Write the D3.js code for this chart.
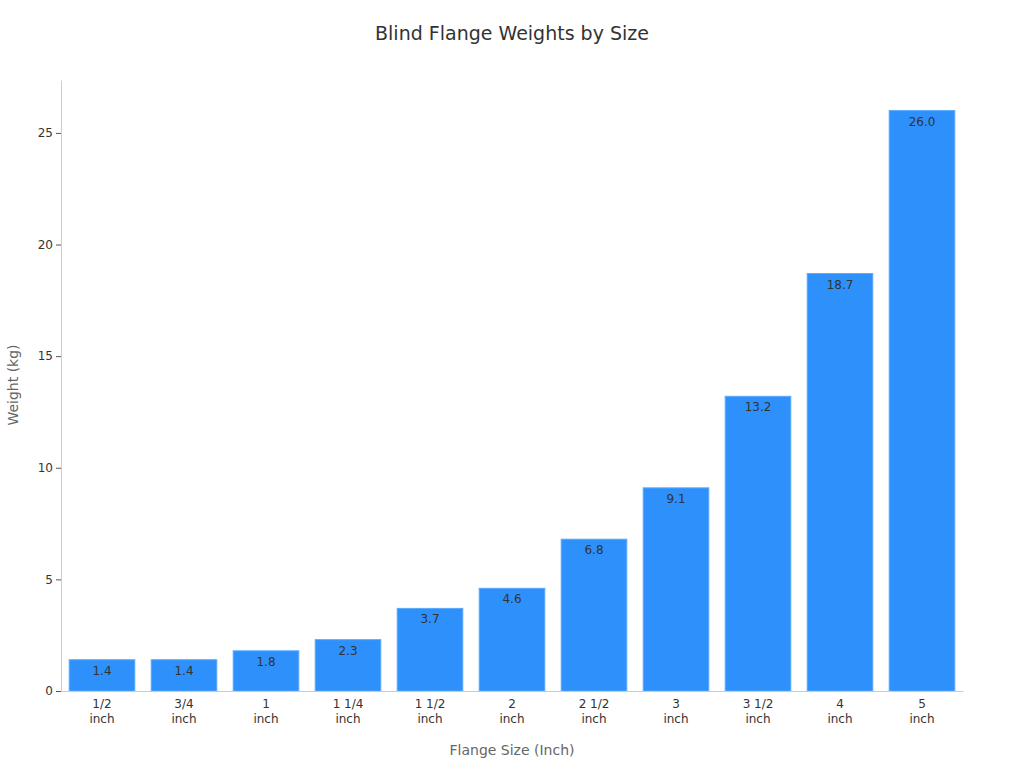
<!DOCTYPE html>
<html><head><meta charset="utf-8">
<script src="https://cdn.jsdelivr.net/npm/d3@7"></script>
<style>body{margin:0;background:#fff;font-family:"DejaVu Sans",sans-serif;}</style>
</head><body>
<svg id="c" width="1024" height="768"></svg>
<script>
const categories = ["1/2 inch","3/4 inch","1 inch","1 1/4 inch","1 1/2 inch","2 inch","2 1/2 inch","3 inch","3 1/2 inch","4 inch","5 inch"];
const weights = [1.4,1.4,1.8,2.3,3.7,4.6,6.8,9.1,13.2,18.7,26.0];
const yTicks = [0,5,10,15,20,25];

const svg = d3.select("#c");
const m = {l:61, r:963, t:80, b:691};
const x = d3.scaleBand().domain(categories).range([m.l,m.r]).paddingInner(0.2).paddingOuter(0.1);
const y = d3.scaleLinear().domain([0,27.37]).range([m.b,m.t]);

svg.append("text").attr("x",512).attr("y",40).attr("text-anchor","middle")
  .attr("font-size",19).attr("fill","#333").text("Blind Flange Weights by Size");

svg.selectAll("rect.bar").data(weights).join("rect").attr("class","bar")
  .attr("x",(d,i)=>x(categories[i])).attr("width",x.bandwidth())
  .attr("y",d=>y(d)).attr("height",d=>y(0)-y(d))
  .attr("fill","#2e90fa").attr("stroke","#5aa8fb").attr("stroke-width",1);

svg.selectAll("text.val").data(weights).join("text").attr("class","val")
  .attr("x",(d,i)=>x(categories[i])+x.bandwidth()/2).attr("y",d=>y(d)+15)
  .attr("text-anchor","middle").attr("font-size",12).attr("fill","#333")
  .text(d=>d.toFixed(1));

const ya = svg.append("g").attr("transform",`translate(${m.l},0)`)
  .call(d3.axisLeft(y).tickValues(yTicks).tickSize(5).tickSizeOuter(0));
ya.select(".domain").attr("stroke","#ccc");
ya.selectAll(".tick line").attr("stroke","#555");
ya.selectAll("text").attr("font-size",12).attr("fill","#333").attr("font-family","DejaVu Sans");

const xa = svg.append("g").attr("transform",`translate(0,${m.b})`)
  .call(d3.axisBottom(x).tickSize(0).tickSizeOuter(0));
xa.select(".domain").attr("stroke","#ccc");
xa.selectAll(".tick text").each(function(d){
  const t=d3.select(this); t.text(null).attr("font-size",12).attr("fill","#333").attr("font-family","DejaVu Sans");
  const idx=d.lastIndexOf(" ");
  t.append("tspan").attr("x",0).attr("dy","1.2em").text(d.slice(0,idx));
  t.append("tspan").attr("x",0).attr("dy","1.2em").text(d.slice(idx+1));
});

svg.append("text").attr("x",512).attr("y",755).attr("text-anchor","middle")
  .attr("font-size",14).attr("fill","#666").text("Flange Size (Inch)");
svg.append("text").attr("transform","translate(18,385) rotate(-90)").attr("text-anchor","middle")
  .attr("font-size",14).attr("fill","#666").text("Weight (kg)");
</script>
</body></html>
